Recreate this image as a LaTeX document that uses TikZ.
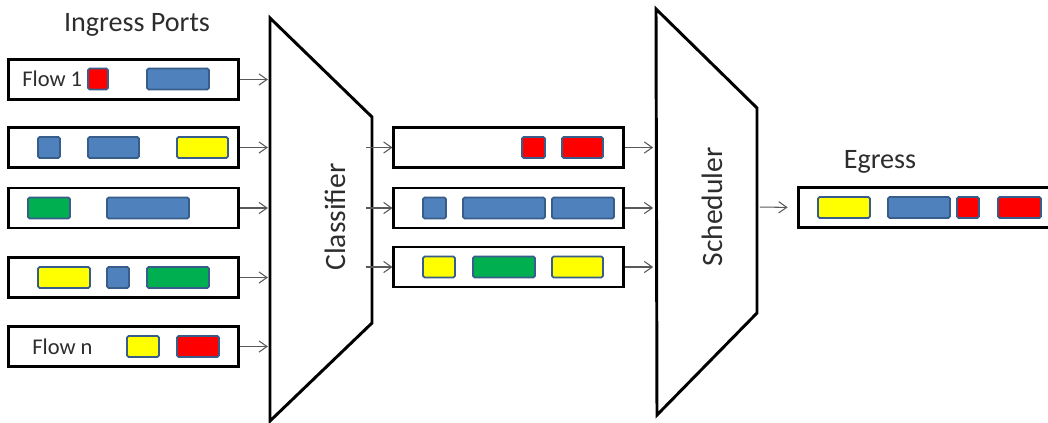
\documentclass[tikz,border=0pt]{standalone}
\usepackage{fontspec}
\setmainfont{Carlito}
\usetikzlibrary{arrows.meta,positioning,calc}
\definecolor{pktblue}{RGB}{79,129,189}
\definecolor{pktedge}{RGB}{56,93,138}
\definecolor{pktred}{RGB}{255,0,0}
\definecolor{pktyellow}{RGB}{255,255,0}
\definecolor{pktgreen}{RGB}{0,176,80}
\definecolor{txtgray}{RGB}{45,45,45}
\definecolor{arrgray}{RGB}{89,89,89}
\tikzset{
  queue/.style={draw=black,line width=2.1pt,fill=white,minimum width=5.725cm,minimum height=1cm,inner sep=0pt},
  pkt/.style={draw=pktedge,line width=1.3pt,rounded corners=1.2pt,minimum height=0.525cm,inner sep=0pt},
  stage/.style={draw=black,line width=2.1pt,line join=miter},
  arr/.style={-{Straight Barb[length=2mm,width=2.8mm]},draw=arrgray,line width=0.75pt},
  title/.style={font=\fontsize{20}{24}\selectfont,text=txtgray},
  flowlbl/.style={font=\fontsize{16}{19}\selectfont,text=txtgray,anchor=west,inner sep=0pt},
  stagelbl/.style={font=\fontsize{21}{25}\selectfont,text=txtgray,rotate=90}
}
\newcommand{\Pkt}[5]{\node[pkt,fill=#2,minimum width={(#4-#3)*0.025cm}] (#1) at ({(#3+#4)/2},#5) {};}

\begin{document}
\begin{tikzpicture}[x=0.025cm,y=-0.025cm]
  \clip (0,0) rectangle (1048,422);

  % ingress ports
  \node[title] (ingress) at (137,25) {Ingress Ports};
  \node[queue] (in1) at (123.5,79.5) {};
  \node[queue] (in2) at (123.5,147.5) {};
  \node[queue] (in3) at (123.5,208) {};
  \node[queue] (in4) at (123.5,277.5) {};
  \node[queue] (in5) at (123.5,346.5) {};
  \node[flowlbl] (flow1) at (22,79) {Flow 1};
  \node[flowlbl] (flown) at (32,347) {Flow n};
  \Pkt{p11}{pktred}{88}{108}{79}
  \Pkt{p12}{pktblue}{147}{209}{79}
  \Pkt{p21}{pktblue}{38}{60}{147.5}
  \Pkt{p22}{pktblue}{88}{139}{147.5}
  \Pkt{p23}{pktyellow}{177}{228}{147.5}
  \Pkt{p31}{pktgreen}{28}{70}{208}
  \Pkt{p32}{pktblue}{107}{189}{208}
  \Pkt{p41}{pktyellow}{38}{90}{277.5}
  \Pkt{p42}{pktblue}{107}{129}{277.5}
  \Pkt{p43}{pktgreen}{147}{209}{277.5}
  \Pkt{p51}{pktyellow}{127}{159}{346.5}
  \Pkt{p52}{pktred}{177}{219}{346.5}

  % classifier
  \coordinate (clsA) at (270,18);
  \coordinate (clsB) at (372,117);
  \coordinate (clsC) at (372,323);
  \coordinate (clsD) at (270,421);
  \coordinate (clsOut) at (366,220);
  \draw[stage] (clsA) -- (clsB) -- (clsC) -- (clsD) -- cycle;
  \node[stagelbl] (cls) at (335,217) {Classifier};

  % per-class queues
  \node[queue] (q1) at (508.5,147.5) {};
  \node[queue] (q2) at (508.5,208) {};
  \node[queue] (q3) at (508.5,267) {};
  \Pkt{q11}{pktred}{522}{545}{147.5}
  \Pkt{q12}{pktred}{562}{603}{147.5}
  \Pkt{q21}{pktblue}{423}{446}{208}
  \Pkt{q22}{pktblue}{463}{545}{208}
  \Pkt{q23}{pktblue}{552}{614}{208}
  \Pkt{q31}{pktyellow}{423}{455}{267}
  \Pkt{q32}{pktgreen}{473}{535}{267}
  \Pkt{q33}{pktyellow}{552}{603}{267}

  % scheduler
  \coordinate (schA) at (656,9);
  \coordinate (schB) at (757,108);
  \coordinate (schC) at (757,313);
  \coordinate (schD) at (657,415);
  \draw[stage] (schA) -- (schB) -- (schC) -- (schD) -- cycle;
  \node[stagelbl] (sch) at (712,207) {Scheduler};

  % egress
  \node[title] (egress) at (880,162) {Egress};
  \node[queue,minimum width=6.525cm] (eg) at (929.5,207.5) {};
  \Pkt{e1}{pktyellow}{818}{870}{207.5}
  \Pkt{e2}{pktblue}{888}{950}{207.5}
  \Pkt{e3}{pktred}{957}{979}{207.5}
  \Pkt{e4}{pktred}{998}{1041}{207.5}

  \foreach \n in {in1,in2,in3,in4,in5}
    \draw[arr,shorten >=1.5pt] (\n.east) -- (\n.east -| clsA);
  \foreach \n in {q1,q2,q3}{
    \draw[arr] (\n.west -| clsOut) -- (\n.west);
    \draw[arr,shorten >=2pt] (\n.east) -- (\n.east -| schA);
  }
  \draw[arr,shorten <=2pt,shorten >=7pt] (sch.south -| schB) -- (eg.west);
\end{tikzpicture}
\end{document}
